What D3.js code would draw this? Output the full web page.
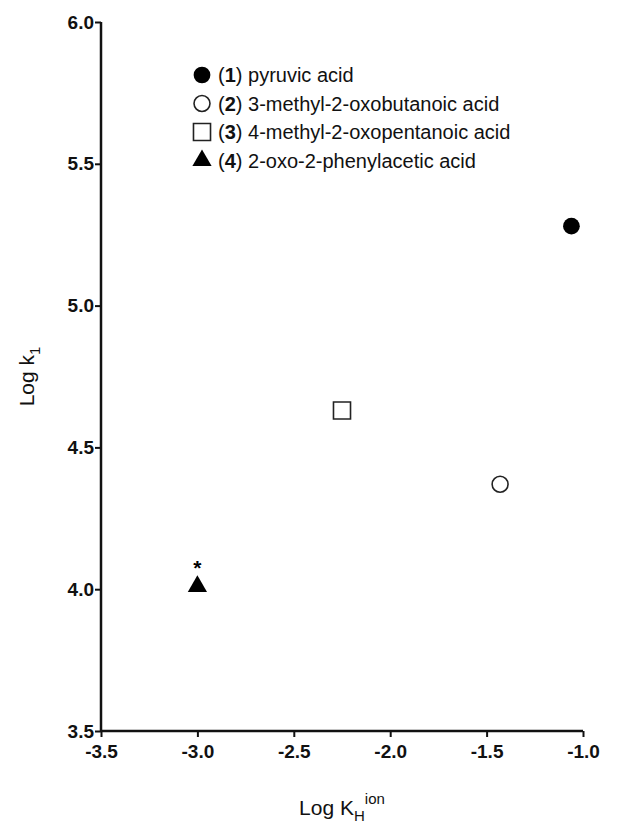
<!DOCTYPE html>
<html lang="en">
<head>
    <meta charset="UTF-8">
    <title>Log k1 vs Log KH ion</title>
    <script src="https://d3js.org/d3.v7.min.js"></script>
    <style>
        body {
            margin: 0;
            background: #fff;
            font-family: Arial, "Liberation Sans", sans-serif;
        }
        .tick text {
            font-size: 19px;
            font-weight: bold;
            fill: #111;
        }
        .axis-label {
            font-size: 21px;
            fill: #111;
        }
        .legend text {
            font-size: 20px;
            fill: #111;
        }
    </style>
</head>
<body>
    <svg id="chart"></svg>

    <script>
        // data
        const acids = ["pyruvic acid", "3-methyl-2-oxobutanoic acid", "4-methyl-2-oxopentanoic acid", "2-oxo-2-phenylacetic acid"];
        const numbers = ["1", "2", "3", "4"];
        const logKH = [-1.06, -1.43, -2.25, -3.0];
        const logK1 = [5.28, 4.37, 4.63, 4.01];
        const starred = [false, false, false, true];
        const xTicks = [-3.5, -3.0, -2.5, -2.0, -1.5, -1.0];
        const yTicks = [3.5, 4.0, 4.5, 5.0, 5.5, 6.0];

        const W = 625, H = 831;
        const margin = { top: 22, right: 42, bottom: 100, left: 101 };
        const width = W - margin.left - margin.right;
        const height = H - margin.top - margin.bottom;

        const svg = d3.select("#chart")
            .attr("width", W)
            .attr("height", H);

        const g = svg.append("g")
            .attr("transform", `translate(${margin.left},${margin.top})`);

        const x = d3.scaleLinear().domain([-3.5, -1.0]).range([0, width]);
        const y = d3.scaleLinear().domain([3.5, 6.0]).range([height, 0]);

        // plain hyphen for negatives, like the original
        const fmt = d => d.toFixed(1);

        // marker styles per compound
        const shapes = [d3.symbolCircle, d3.symbolCircle, d3.symbolSquare, d3.symbolTriangle];
        const sizes = [220, 200, 290, 160];
        const fills = ["#000", "#fff", "#fff", "#000"];

        const points = acids.map((name, i) => ({
            name, num: numbers[i], x: logKH[i], y: logK1[i], star: starred[i], i
        }));

        // axes
        const xAxis = g.append("g")
            .attr("transform", `translate(0,${height})`)
            .call(d3.axisBottom(x).tickValues(xTicks).tickFormat(fmt).tickSize(6).tickPadding(3));

        const yAxis = g.append("g")
            .call(d3.axisLeft(y).tickValues(yTicks).tickFormat(fmt).tickSize(6).tickPadding(1));

        [xAxis, yAxis].forEach(a => {
            a.select(".domain").attr("stroke", "#111").attr("stroke-width", 2.5);
            a.selectAll(".tick line").attr("stroke", "#111").attr("stroke-width", 2);
        });
        // plain line ends, no outer tick hooks
        xAxis.select(".domain").attr("d", `M0,0H${width}`);
        yAxis.select(".domain").attr("d", `M0,0V${height}`);
        xAxis.selectAll(".tick text").attr("dy", "0.95em");

        // points
        g.selectAll(".pt")
            .data(points)
            .enter().append("path")
            .attr("class", "pt")
            .attr("transform", d => `translate(${x(d.x)},${y(d.y)})`)
            .attr("d", d => d3.symbol().type(shapes[d.i]).size(sizes[d.i])())
            .attr("fill", d => fills[d.i])
            .attr("stroke", "#222")
            .attr("stroke-width", d => d.i === 0 || d.i === 3 ? 0 : 1.6);

        g.selectAll(".star")
            .data(points.filter(d => d.star))
            .enter().append("text")
            .attr("class", "star")
            .attr("x", d => x(d.x))
            .attr("y", d => y(d.y) - 11)
            .attr("text-anchor", "middle")
            .style("font-size", "21px")
            .style("font-weight", "bold")
            .text("*");

        // legend
        const legend = g.append("g")
            .attr("class", "legend")
            .attr("transform", "translate(101,53)");

        const row = legend.selectAll(".row")
            .data(points)
            .enter().append("g")
            .attr("transform", (d, i) => `translate(0,${i * 28.5})`);

        row.append("path")
            .attr("d", d => d3.symbol().type(shapes[d.i]).size(sizes[d.i])())
            .attr("fill", d => fills[d.i])
            .attr("stroke", "#222")
            .attr("stroke-width", d => d.i === 0 || d.i === 3 ? 0 : 1.6);

        const lt = row.append("text")
            .attr("x", 16)
            .attr("y", 7);
        lt.append("tspan").text("(");
        lt.append("tspan").style("font-weight", "bold").text(d => d.num);
        lt.append("tspan").text(d => ") " + d.name);

        // axis titles
        const yl = svg.append("text")
            .attr("class", "axis-label")
            .attr("transform", `translate(34,${margin.top + height / 2}) rotate(-90)`)
            .attr("text-anchor", "middle");
        yl.append("tspan").text("Log k");
        yl.append("tspan").attr("dy", 6).style("font-size", "15px").text("1");

        const xl = svg.append("text")
            .attr("class", "axis-label")
            .attr("x", margin.left + width / 2)
            .attr("y", 815)
            .attr("text-anchor", "middle");
        xl.append("tspan").text("Log K");
        xl.append("tspan").attr("dy", 6).style("font-size", "15px").text("H");
        xl.append("tspan").attr("dy", -17).style("font-size", "15px").text("ion");
    </script>
</body>
</html>
